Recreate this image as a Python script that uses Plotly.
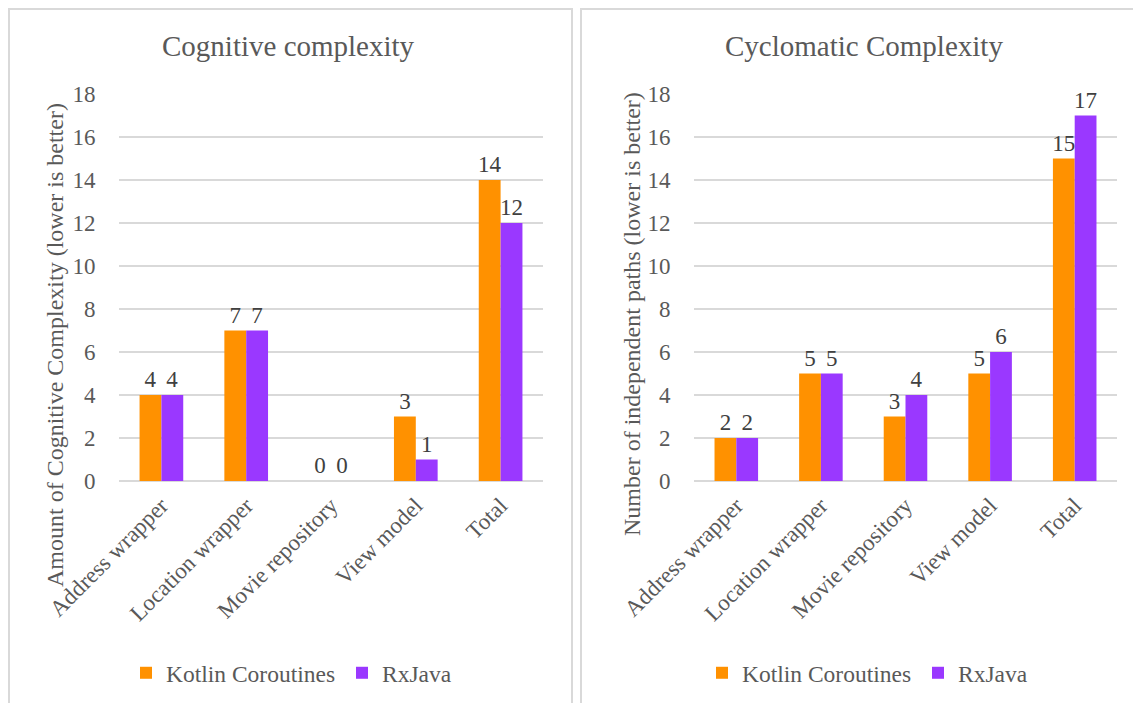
import plotly.graph_objects as go
from plotly.subplots import make_subplots

# ---- data ----
categories = ["Address wrapper", "Location wrapper", "Movie repository", "View model", "Total"]
series_names = ["Kotlin Coroutines", "RxJava"]
cognitive_kotlin = [4, 7, 0, 3, 14]
cognitive_rxjava = [4, 7, 0, 1, 12]
cyclomatic_kotlin = [2, 5, 3, 5, 15]
cyclomatic_rxjava = [2, 5, 4, 6, 17]
y_ticks = [0, 2, 4, 6, 8, 10, 12, 14, 16, 18]
panel_titles = ["Cognitive complexity", "Cyclomatic Complexity"]
axis_titles = ["Amount of Cognitive Complexity (lower is better)",
               "Number of independent paths (lower is better)"]

# ---- styling ----
OFF = 8  # default page body margin
W, H = 1141 - OFF, 703 - OFF
FONT = "Liberation Serif"
ORANGE = "#FF9100"
PURPLE = "#9A38FF"
TXT = "#595959"
LBL = "#404040"
GRID = "#D9D9D9"

def px(x):
    return (x - OFF) / W

def py(y):
    return 1 - (y - OFF) / H

fig = make_subplots(rows=1, cols=2)

panels = [
    (cognitive_kotlin, cognitive_rxjava, 1, "legend"),
    (cyclomatic_kotlin, cyclomatic_rxjava, 2, "legend2"),
]
for k_vals, r_vals, col, leg in panels:
    for name, vals, color in [(series_names[0], k_vals, ORANGE), (series_names[1], r_vals, PURPLE)]:
        fig.add_trace(
            go.Bar(
                x=categories, y=vals, name=name, marker=dict(color=color, line=dict(width=0)),
                text=[str(v) for v in vals],
                textposition="outside", cliponaxis=False,
                constraintext="none",
                textfont=dict(family=FONT, size=23, color=LBL),
                legend=leg, showlegend=True,
            ),
            row=1, col=col,
        )

fig.update_layout(
    template="none",
    width=W, height=H, autosize=False,
    margin=dict(l=0, r=0, t=0, b=0, pad=0),
    paper_bgcolor="white", plot_bgcolor="white",
    barmode="group", bargap=0.485, bargroupgap=0,
    font=dict(family=FONT, color=TXT, size=23),
    showlegend=True,
    legend=dict(orientation="h", x=px(126), y=py(673), xanchor="left", yanchor="middle",
                font=dict(family=FONT, size=23.5, color=TXT),
                entrywidth=171, entrywidthmode="pixels", bgcolor="rgba(0,0,0,0)"),
    legend2=dict(orientation="h", x=px(702), y=py(673), xanchor="left", yanchor="middle",
                 font=dict(family=FONT, size=23.5, color=TXT),
                 entrywidth=171, entrywidthmode="pixels", bgcolor="rgba(0,0,0,0)"),
)

xdomains = [[px(119), px(543)], [px(694), px(1117)]]
ydomain = [py(481), py(94)]
for i, col in enumerate([1, 2]):
    fig.update_xaxes(domain=xdomains[i], showgrid=False, showline=False, zeroline=False,
                     automargin=False,
                     tickangle=-45, tickfont=dict(family=FONT, size=23, color=TXT),
                     ticks="outside", ticklen=1, tickcolor="rgba(0,0,0,0)",
                     row=1, col=col)
    fig.update_yaxes(domain=ydomain, range=[0, 18], tickvals=y_ticks,
                     automargin=False,
                     showgrid=True, gridcolor=GRID, gridwidth=1.5,
                     zeroline=True, zerolinecolor=GRID, zerolinewidth=1.5,
                     showline=False,
                     tickfont=dict(family=FONT, size=23, color=TXT),
                     ticks="outside", ticklen=18, tickcolor="rgba(0,0,0,0)",
                     row=1, col=col)

# panel borders
fig.add_shape(type="rect", xref="paper", yref="paper",
              x0=px(9), x1=px(572), y0=py(740), y1=py(9),
              line=dict(color=GRID, width=2), fillcolor="rgba(0,0,0,0)", layer="below")
fig.add_shape(type="rect", xref="paper", yref="paper",
              x0=px(581), x1=px(1160), y0=py(740), y1=py(9),
              line=dict(color=GRID, width=2), fillcolor="rgba(0,0,0,0)", layer="below")

# titles
fig.add_annotation(text=panel_titles[0], xref="paper", yref="paper", x=px(288), y=py(46),
                   showarrow=False, xanchor="center", yanchor="middle",
                   font=dict(family=FONT, size=29, color=TXT))
fig.add_annotation(text=panel_titles[1], xref="paper", yref="paper", x=px(864), y=py(46),
                   showarrow=False, xanchor="center", yanchor="middle",
                   font=dict(family=FONT, size=29, color=TXT))
# axis titles
fig.add_annotation(text=axis_titles[0], xref="paper", yref="paper", x=px(55), y=py(345),
                   showarrow=False, textangle=-90, xanchor="center", yanchor="middle",
                   font=dict(family=FONT, size=24, color=TXT))
fig.add_annotation(text=axis_titles[1], xref="paper", yref="paper", x=px(632), y=py(314),
                   showarrow=False, textangle=-90, xanchor="center", yanchor="middle",
                   font=dict(family=FONT, size=24, color=TXT))

fig.write_html("out.html")
